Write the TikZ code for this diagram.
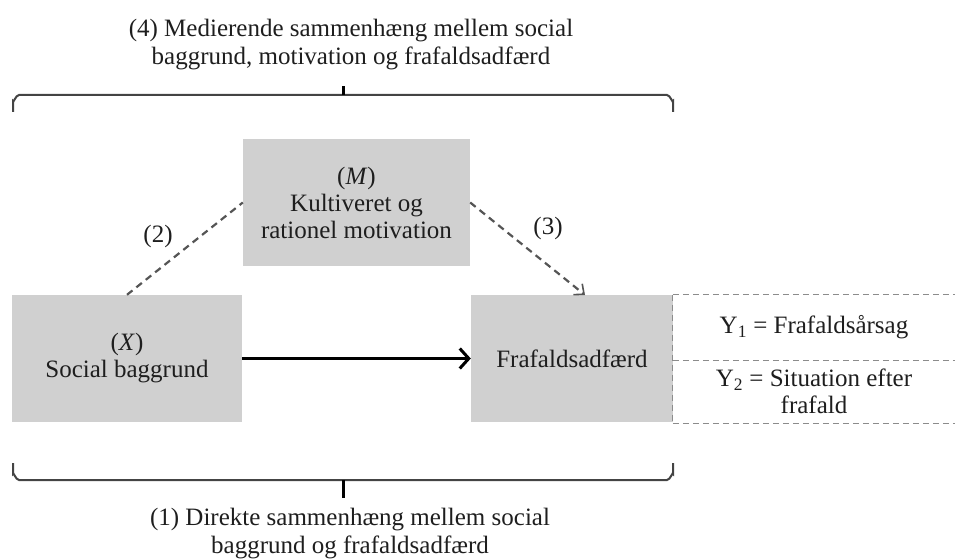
\documentclass[tikz,border=0pt]{standalone}
\usepackage{fontspec}
\setmainfont{Liberation Serif}
\usetikzlibrary{arrows.meta,calc}
\definecolor{boxgray}{HTML}{D0D0D0}
\definecolor{ink}{HTML}{1E1E1E}
\definecolor{dashgray}{HTML}{8C8C8C}
\definecolor{linkgray}{HTML}{555555}
\definecolor{bracegray}{HTML}{444444}
\begin{document}
\begin{tikzpicture}[x=1pt,y=-1pt,
  every node/.style={font=\fontsize{25}{27}\selectfont, text=ink},
  varbox/.style={fill=boxgray, draw=none, inner sep=0pt, align=center, minimum height=127pt},
  cell/.style={draw=none, inner sep=0pt, align=center, minimum width=282pt},
  label/.style={inner sep=0pt},
  caption/.style={inner sep=0pt, align=center, font=\fontsize{25}{28}\selectfont},
  tabline/.style={draw=dashgray, line width=1pt, dash pattern=on 6pt off 4pt},
  dashlink/.style={draw=linkgray, line width=2.2pt, dash pattern=on 7pt off 5pt},
  mainarrow/.style={draw=black, line width=3pt, -{Straight Barb[length=9pt,width=20pt,line width=3pt]}},
  bracepath/.style={draw=bracegray, line width=2pt},
  bracetick/.style={draw=black, line width=3pt}]
\path[use as bounding box] (0,0) rectangle (955,559);

% boxes
\node[varbox, minimum width=230pt] (X) at (127,358.5) {(\textit{X})\\Social baggrund};
\node[varbox, minimum width=227pt] (M) at (356.5,202.5) {(\textit{M})\\Kultiveret og\\rationel motivation};
\node[varbox, minimum width=202pt] (F) at (572,358.5) {Frafaldsadfærd};

% outcome table
\node[cell, minimum height=65pt] (Y1) at (814,327.5) {Y\textsubscript{1} = Frafaldsårsag};
\node[cell, minimum height=63pt] (Y2) at (814,391.5) {Y\textsubscript{2} = Situation efter\\frafald};
\draw[tabline] (Y1.north west) -- (Y1.north east);
\draw[tabline] (Y1.south west) -- (Y1.south east);
\draw[tabline] (Y2.south west) -- (Y2.south east);
\draw[tabline] (Y1.north west) -- (Y2.south west);

% connectors
\draw[mainarrow] (X) -- (F);
\draw[dashlink] (X.north) -- (M.west);
\coordinate (Fhit) at (585,295);
\draw[dashlink, -{Straight Barb[length=8pt,width=14pt,line width=1.6pt]}] (M.east) -- (Fhit);
\node[label] (l2) at (158,236) {(2)};
\node[label] (l3) at (548,228) {(3)};

% top brace
\coordinate (tbL) at (13,112);
\coordinate (tbR) at (673,112);
\coordinate (tbM) at (343,95);
\coordinate (tbT) at (343,86);
\draw[bracepath] (tbL) -- (13,101) to[out=-90,in=180] (19,95) -- (667,95) to[out=0,in=-90] (tbR |- 0,101) -- (tbR);
\draw[bracetick] (tbM) -- (tbT);
\node[caption] (t4) at (351,45) {(4) Medierende sammenhæng mellem social\\baggrund, motivation og frafaldsadfærd};

% bottom brace
\coordinate (bbL) at (13,463);
\coordinate (bbR) at (673,463);
\coordinate (bbM) at (343,480);
\coordinate (bbT) at (343,498);
\draw[bracepath] (bbL) -- (13,474) to[out=90,in=180] (19,480) -- (667,480) to[out=0,in=90] (bbR |- 0,474) -- (bbR);
\draw[bracetick] (bbM) -- (bbT);
\node[caption] (t1) at (350,534) {(1) Direkte sammenhæng mellem social\\baggrund og frafaldsadfærd};
\end{tikzpicture}
\end{document}
